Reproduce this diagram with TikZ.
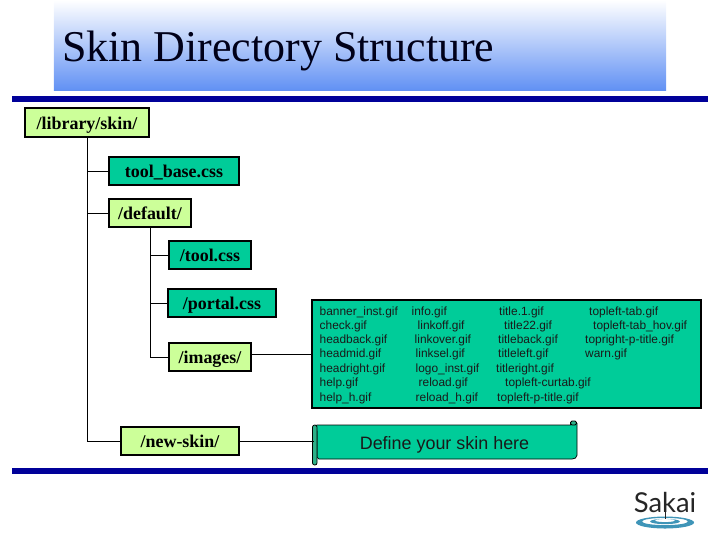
\documentclass[tikz,border=0pt]{standalone}
\usepackage{fontspec}
\setmainfont{Liberation Serif}
\newfontfamily\arialfont{Liberation Sans}
\newfontfamily\logofont{Lato}
\usepackage{xcolor}
\definecolor{boxgreen}{HTML}{00CC99}
\definecolor{boxlime}{HTML}{CCFF99}
\definecolor{barblue}{HTML}{000099}
\definecolor{titleblue}{HTML}{6090F4}
\definecolor{rollgreen}{HTML}{2CB088}
\definecolor{ripple}{HTML}{3F95B8}
\begin{document}
\begin{tikzpicture}[x=0.33333mm, y=-0.33333mm,
    dirbox/.style={rectangle, draw, line width=0.7mm, fill=boxlime, inner sep=0pt,
        minimum height=9.6mm, text height=13pt, text depth=0pt,
        font=\bfseries\fontsize{17}{17}\selectfont},
    filebox/.style={dirbox, fill=boxgreen},
    gifname/.style={anchor=west, inner sep=0pt, yshift=-0.33mm, font=\arialfont\fontsize{11.3}{11.3}\selectfont, text=black!90},
    treeline/.style={line width=0.3mm, black}
]
    \useasboundingbox (0,0) rectangle (720,540);

    %title
    \node (title_band) [rectangle, minimum width=204mm, minimum height=30.3mm, inner sep=0pt,
        top color=white, bottom color=titleblue, shift={(360, 45.5)}] {};
    \node (title) [anchor=west, inner sep=0pt, font=\fontsize{41.7}{41.7}\selectfont, text=black!90!blue,
        shift={(62, 51)}] {Skin Directory Structure};
    \node (top_bar) [rectangle, fill=barblue, minimum width=232mm, minimum height=2mm, inner sep=0pt,
        shift={(360, 99)}] {};
    \node (bottom_bar) [rectangle, fill=barblue, minimum width=232mm, minimum height=2mm, inner sep=0pt,
        shift={(360, 471)}] {};

    %tree
    \node (library_skin) [dirbox, minimum width=41.3mm, shift={(87, 122.5)}] {/library/skin/};
    \node (tool_base_css) [filebox, minimum width=43.3mm, shift={(174, 171)}] {tool\_base.css};
    \node (default_dir) [dirbox, minimum width=27.3mm, shift={(150, 213)}] {/default/};
    \node (tool_css) [filebox, minimum width=27.6mm, shift={(210, 255)}] {/tool.css};
    \node (portal_css) [filebox, minimum width=35.9mm, shift={(222, 303)}] {/portal.css};
    \node (images_dir) [dirbox, minimum width=27.6mm, shift={(210, 357)}] {/images/};
    \node (new_skin) [dirbox, minimum width=39.6mm, shift={(180, 441)}] {/new-skin/};

    %images
    \node (gif_box) [filebox, minimum width=129.6mm, minimum height=36mm, shift={(506.5, 354)}] {};
    \foreach \gifkey/\gifx/\gify/\giftext in {
        a/319.5/311/banner\_inst.gif, b/319.5/325/check.gif, c/319.5/339.5/headback.gif,
        d/319.5/353.5/headmid.gif, e/319.5/368.5/headright.gif, f/319.5/382.5/help.gif,
        g/319.5/397.5/help\_h.gif,
        h/411.5/311/info.gif, i/417.5/325/linkoff.gif, j/414.5/339.5/linkover.gif,
        k/415.5/353.5/linksel.gif, l/415.5/368.5/logo\_inst.gif, m/418.5/382.5/reload.gif,
        n/415.5/397.5/reload\_h.gif,
        o/499/311/title.1.gif, p/504/325/title22.gif, q/498/339.5/titleback.gif,
        r/498/353.5/titleleft.gif, s/496/368.5/titleright.gif, t/505/382.5/topleft-curtab.gif,
        u/497/397.5/topleft-p-title.gif,
        v/589/311/topleft-tab.gif, w/593/325/topleft-tab\_hov.gif, x/585/339.5/topright-p-title.gif,
        y/585/353.5/warn.gif}
    {
        \node (gif_\gifkey) [gifname, shift={(\gifx, \gify)}] {\giftext};
    }

    %scroll
    \fill[boxgreen, draw=black, line width=0.25mm, rounded corners=0.6mm]
        (315,425) -- (572,425) -- (572,421.5) -- (577,421.5) -- (577,457) -- (574,459) -- (317,459) -- (317,430) -- cycle;
    \fill[rollgreen, draw=black, line width=0.25mm, rounded corners=0.7mm]
        (312.5,425) -- (317,425) -- (317,465) -- (312.5,465) -- cycle;
    \fill[rollgreen, draw=black, line width=0.25mm, rounded corners=0.5mm]
        (570.5,421) -- (576.5,421) -- (576.5,425) -- (570.5,425) -- cycle;
    \node (define_skin) [rectangle, minimum width=87mm, minimum height=11mm, inner sep=0pt,
        text height=14pt, text depth=0pt,
        font=\arialfont\fontsize{17}{17}\selectfont, text=black!90, shift={(444.5, 442.5)}] {Define your skin here};

    %connectors
    \draw[treeline] (library_skin) to (library_skin |- new_skin);
    \draw[treeline] (library_skin |- new_skin) to (new_skin);
    \draw[treeline] (library_skin |- tool_base_css) to (tool_base_css);
    \draw[treeline] (library_skin |- default_dir) to (default_dir);
    \draw[treeline] (default_dir) to (default_dir |- images_dir);
    \draw[treeline] (default_dir |- tool_css) to (tool_css);
    \draw[treeline] (default_dir |- portal_css) to (portal_css);
    \draw[treeline] (default_dir |- images_dir) to (images_dir);
    \draw[treeline] (images_dir.east |- gif_box) to (gif_box);
    \draw[treeline] (new_skin) to (new_skin -| define_skin.west);

    %logo
    \fill[ripple, even odd rule] (665,522.5) ellipse (29 and 6) (665,521.5) ellipse (23 and 3.6);
    \fill[ripple, even odd rule] (665,521.5) ellipse (15 and 2.6) (665,520.5) ellipse (10 and 1.6);
    \node (sakai) [inner sep=0pt, font=\logofont\fontsize{26}{26}\selectfont, text=black!85, shift={(665, 503)}] {Sakai};
    \draw[black!85, line width=0.2mm, shorten >=-5pt] (sakai.north) to (sakai.south);
\end{tikzpicture}
\end{document}
